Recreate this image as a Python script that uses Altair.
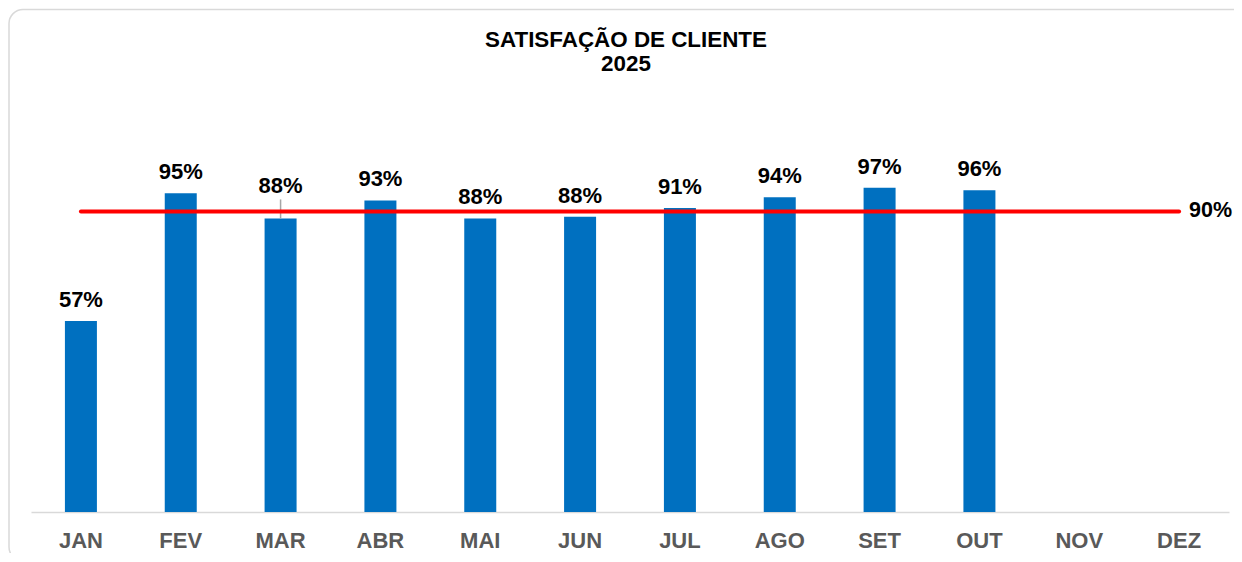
import altair as alt
import pandas as pd

meses = ["JAN", "FEV", "MAR", "ABR", "MAI", "JUN", "JUL", "AGO", "SET", "OUT", "NOV", "DEZ"]
satisfacao = [0.572, 0.954, 0.879, 0.933, 0.879, 0.884, 0.910, 0.942, 0.971, 0.963, None, None]
meta = 0.90
titulo = ["SATISFAÇÃO DE CLIENTE", "2025"]
destaque = ["MAR"]  # label lifted with a leader line

FONT = "Liberation Sans"

df = pd.DataFrame({"mes": meses, "valor": satisfacao})
df_bar = df.dropna().copy()
df_bar["destaque"] = df_bar["mes"].isin(destaque)
df_meta = pd.DataFrame({"mes": meses, "meta": [meta] * len(meses)})

x = alt.X(
    "mes:N",
    sort=meses,
    scale=alt.Scale(domain=meses, paddingInner=0.68, paddingOuter=0.34),
    axis=alt.Axis(title=None, labelAngle=0),
)
yscale = alt.Scale(domain=[0, 1])
y = alt.Y("valor:Q", scale=yscale, axis=None)

frame = alt.Chart(pd.DataFrame({"a": [0]})).mark_rect(
    fill=None, stroke="#d9d9d9", strokeWidth=1.5, cornerRadius=14
).encode(
    x=alt.value(-22), x2=alt.value(1216), y=alt.value(-168.5), y2=alt.value(383)
)

bars = alt.Chart(df_bar).mark_bar(size=32, color="#0070C0").encode(x=x, y=y)

labels = alt.Chart(df_bar).transform_filter("!datum.destaque").mark_text(
    font=FONT, fontSize=22, fontWeight="bold", color="black",
    baseline="alphabetic", dy=-14
).encode(x=x, y=y, text=alt.Text("valor:Q", format=".0%"))

labels_up = alt.Chart(df_bar).transform_filter("datum.destaque").mark_text(
    font=FONT, fontSize=22, fontWeight="bold", color="black",
    baseline="alphabetic", dy=-25
).encode(x=x, y=y, text=alt.Text("valor:Q", format=".0%"))

leader = alt.Chart(df_bar).transform_filter("datum.destaque").mark_rule(
    color="#a6a6a6", strokeWidth=1.5, y2Offset=-19
).encode(x=x, y=y, y2=alt.Y2("valor:Q"))

meta_line = alt.Chart(df_meta).mark_line(
    color="#FF0000", strokeWidth=4, strokeCap="round"
).encode(x=x, y=alt.Y("meta:Q", scale=yscale, axis=None))

meta_label = alt.Chart(df_meta).transform_filter("datum.mes == 'DEZ'").mark_text(
    font=FONT, fontSize=21.5, fontWeight="bold", color="black",
    align="left", baseline="middle", dx=10
).encode(x=x, y=alt.Y("meta:Q", scale=yscale, axis=None),
         text=alt.Text("meta:Q", format=".0%"))

chart = alt.layer(frame, bars, leader, meta_line, labels, labels_up, meta_label).properties(
    width=1198,
    height=334,
    padding={"left": 23, "top": 170, "right": 5, "bottom": 41},
    autosize=alt.AutoSizeParams(type="none"),
    background="white",
    title=alt.TitleParams(
        text=titulo, font=FONT, fontSize=22.4, fontWeight="bold", color="black",
        lineHeight=24, anchor="middle", baseline="top", offset=-67, dx=-4
    ),
).configure_view(stroke=None).configure_axis(
    domainColor="#d9d9d9", domainWidth=1.5, ticks=False, grid=False,
    labelFont=FONT, labelFontSize=22, labelFontWeight="bold",
    labelColor="#595959", labelPadding=18
)

chart.save("out.html", embed_options={"renderer": "svg", "actions": False})
